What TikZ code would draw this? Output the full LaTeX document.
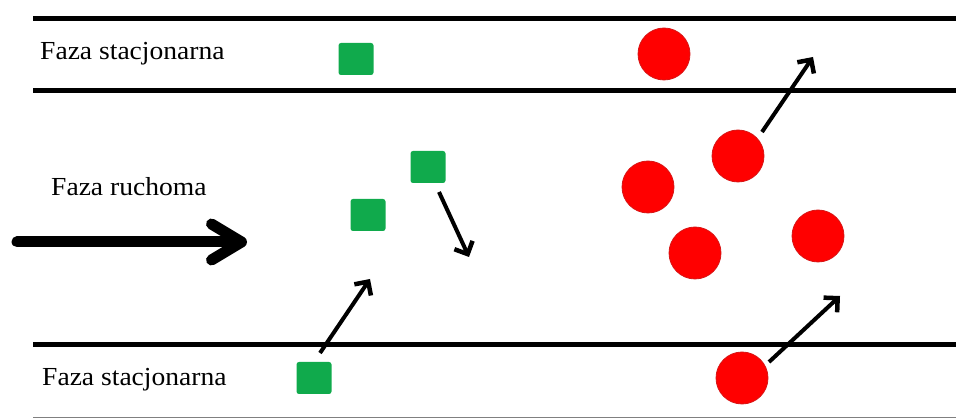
\documentclass[tikz,border=0pt]{standalone}
\usepackage{fontspec}
\setmainfont{Liberation Serif}
\newfontfamily\labfont[FakeStretch=1.06]{Liberation Serif}
\usetikzlibrary{arrows.meta}
\definecolor{molgreen}{RGB}{16,170,76}
\definecolor{molred}{RGB}{255,0,0}
\definecolor{molredline}{RGB}{215,20,20}
\begin{document}
\begin{tikzpicture}[x=1pt,y=-1pt,
  wall/.style={line width=5pt},
  label/.style={inner sep=0pt,anchor=base west,font=\labfont\fontsize{26}{30}\selectfont},
  sq/.style={fill=molgreen,draw=none,rounded corners=2.5pt,minimum width=35pt,minimum height=32pt,inner sep=0pt},
  ball/.style={circle,fill=molred,draw=molredline,line width=0.8pt,minimum size=52pt,inner sep=0pt},
  move/.style={line width=4pt,-{Straight Barb[length=10pt,width=20pt,line width=4.5pt,line join=miter]}},
  flow/.style={line width=11pt,line cap=round,-{Straight Barb[length=30pt,width=36pt,line cap=round,line join=round]}}
]
\useasboundingbox (0,0) rectangle (956,419);
% walls
\draw[wall] (33,19) -- (956,19);
\draw[wall] (33,91) -- (956,91);
\draw[wall] (33,345) -- (956,345);
\draw[line width=1.5pt,gray] (33,417.5) -- (956,417.5);
% labels
\node[label] (ls1) at (40,59.3) {Faza stacjonarna};
\node[label] (lr) at (51,196) {Faza ruchoma};
\node[label] (ls2) at (42,386) {Faza stacjonarna};
% flow arrow
\coordinate (f0) at (17,242);
\coordinate (f1) at (247,242);
\draw[flow] (f0) -- (f1);
% squares
\node[sq] (s1) at (356,59) {};
\node[sq] (s2) at (428,167) {};
\node[sq] (s3) at (368,215) {};
\node[sq] (s4) at (314,378) {};
% balls
\node[ball] (b1) at (664,54) {};
\node[ball] (b2) at (738,156) {};
\node[ball] (b3) at (648,187) {};
\node[ball] (b4) at (695,253) {};
\node[ball] (b5) at (818,236) {};
\node[ball] (b6) at (742,378) {};
% movement arrows
\coordinate (a1s) at (762,132); \coordinate (a1e) at (813,57);
\coordinate (a2s) at (439,192); \coordinate (a2e) at (469,257);
\coordinate (a3s) at (320,353); \coordinate (a3e) at (370,279);
\coordinate (a4s) at (769,362); \coordinate (a4e) at (840,296);
\draw[move] (a1s) -- (a1e);
\draw[move] (a2s) -- (a2e);
\draw[move] (a3s) -- (a3e);
\draw[move] (a4s) -- (a4e);
\end{tikzpicture}
\end{document}
